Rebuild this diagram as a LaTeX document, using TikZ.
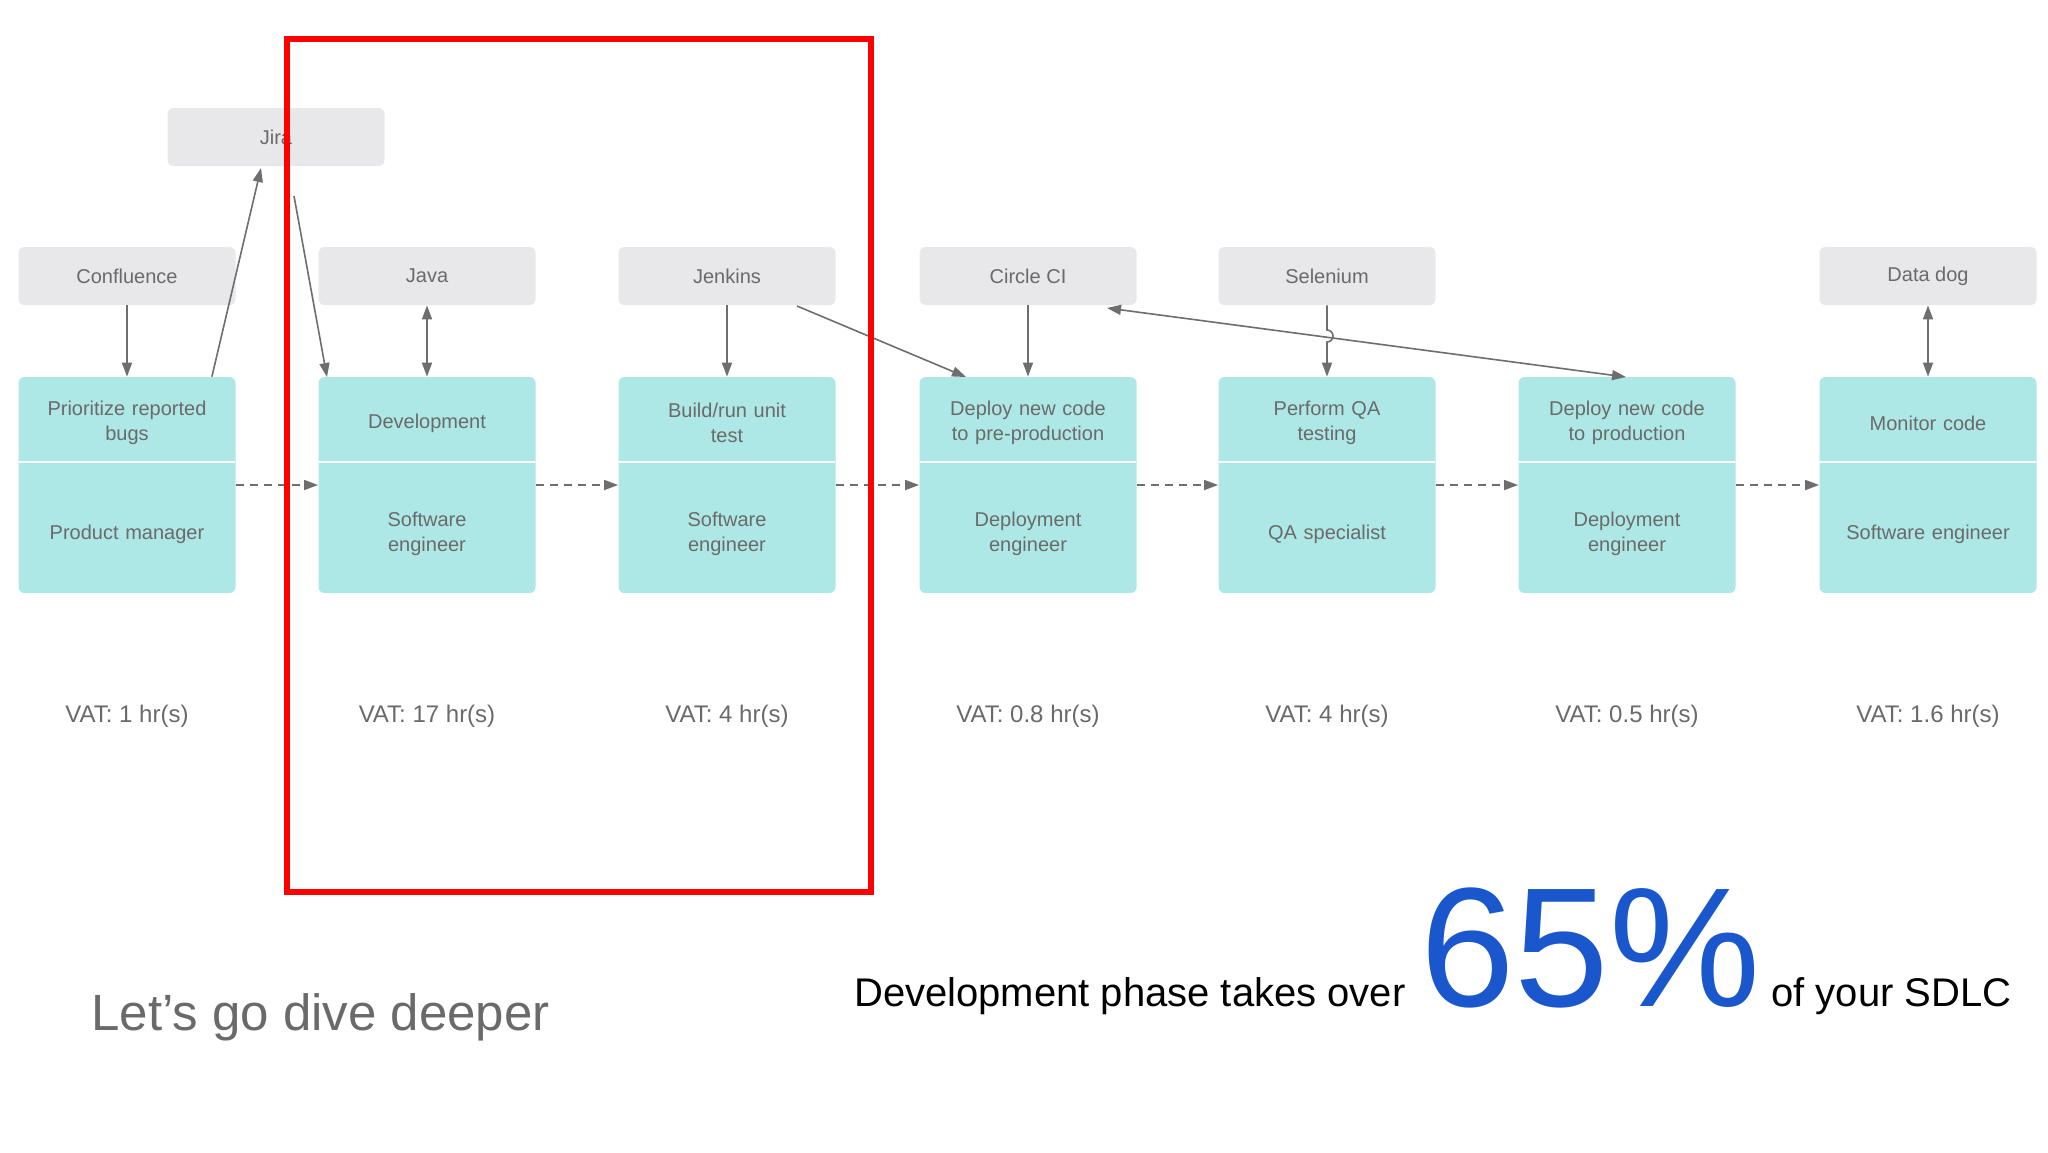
\documentclass[tikz,border=0pt]{standalone}
\usepackage{fontspec}
\setmainfont{Liberation Sans}
\usetikzlibrary{arrows.meta}
\definecolor{proc}{HTML}{AEE8E6}
\definecolor{tool}{HTML}{E8E8EA}
\definecolor{txt}{HTML}{6A6A6A}
\definecolor{line}{HTML}{6E6E6E}
\definecolor{bigblue}{HTML}{1A56CC}
\begin{document}
\begin{tikzpicture}[x=0.5pt,y=-0.5pt,
  procbox/.style={fill=proc,rounded corners=3pt,minimum width=108.5pt,minimum height=108pt,inner sep=0pt},
  toolbox/.style={fill=tool,rounded corners=3pt,minimum width=108.5pt,minimum height=29pt,inner sep=0pt,text=txt,font=\fontsize{10}{12}\selectfont},
  ptext/.style={text=txt,align=center,font=\fontsize{10}{12.5}\selectfont,text width=105pt},
  vat/.style={text=txt,font=\fontsize{12}{14}\selectfont},
  con/.style={draw=line,line width=0.8pt,-{Triangle[length=7pt,width=5pt]}},
  dcon/.style={draw=line,line width=0.8pt,{Triangle[length=7pt,width=5pt]}-{Triangle[length=7pt,width=5pt]}},
  flow/.style={draw=line,line width=0.8pt,dashed,dash pattern=on 4pt off 3pt,-{Triangle[length=7pt,width=5pt]}}]
\useasboundingbox (0,0) rectangle (2048,1152);
\fill[white] (0,0) rectangle (2048,1152);
\foreach \i/\x/\top/\bot in {1/127/{Prioritize reported\\bugs}/{Product manager},
  2/427/{Development}/{Software\\engineer},
  3/727/{Build/run unit\\test}/{Software\\engineer},
  4/1028/{Deploy new code\\to pre-production}/{Deployment\\engineer},
  5/1327/{Perform QA\\testing}/{QA specialist},
  6/1627/{Deploy new code\\to production}/{Deployment\\engineer},
  7/1928/{Monitor code}/{Software engineer}}{
  \node[procbox] (p\i) at (\x,485) {};
  \draw[white,line width=1pt] (\x-108,462) -- (\x+108,462);
  \node[ptext] (pt\i) at (\x,423) {\top};
  \node[ptext] (pb\i) at (\x,534) {\bot};
}
\foreach \i/\x/\v in {1/127/1,2/427/17,3/727/4,4/1028/0.8,5/1327/4,6/1627/0.5,7/1928/1.6}{
  \node[vat] (v\i) at (\x,716) {VAT: \v\ hr(s)};
}
\node[toolbox] (conf) at (127,276) {Confluence};
\node[toolbox] (java) at (427,276) {Java};
\node[toolbox] (jenk) at (727,276) {Jenkins};
\node[toolbox] (circ) at (1028,276) {Circle CI};
\node[toolbox] (sel) at (1327,276) {Selenium};
\node[toolbox] (dd) at (1928,276) {Data dog};
\node[toolbox] (jira) at (276,137) {Jira};
\foreach \a/\b in {1/2,2/3,3/4,4/5,5/6,6/7}{\draw[flow] (p\a.east |- 0,485) -- (p\b.west |- 0,485);}
\draw[con] (conf.south) -- (p1.north);
\draw[con] (p1.north east) ++(-12pt,0) coordinate (a1) (a1) -- (261,168);
\draw[con] (294,196) -- (327,377);
\draw[dcon] (java.south) -- (p2.north);
\draw[con] (jenk.south) -- (p3.north);
\draw[con] (797,306) -- (966,377);
\draw[con] (circ.south) -- (p4.north);
\draw[dcon] (1107,308) -- (1626,377);
\draw[con] (sel.south) -- (1327,330) arc (90:-90:3pt) -- (p5.north);
\draw[dcon] (dd.south) -- (p7.north);
\draw[red,line width=3pt] (287,39) rectangle (871,892);
\node[anchor=base west,text=txt,font=\fontsize{25.5}{30}\selectfont,inner sep=0pt] (dive) at (91,1030) {Let’s go dive deeper};
\node[anchor=base east,font=\fontsize{20}{24}\selectfont,inner sep=0pt] (dev) at (1406,1006) {Development phase takes over};
\node[anchor=base west,text=bigblue,font=\fontsize{85}{95}\selectfont,inner sep=0pt] (pct) at (1420,1006) {65\%};
\node[anchor=base west,font=\fontsize{20}{24}\selectfont,inner sep=0pt] (sdlc) at (1771,1006) {of your SDLC};
\end{tikzpicture}
\end{document}
